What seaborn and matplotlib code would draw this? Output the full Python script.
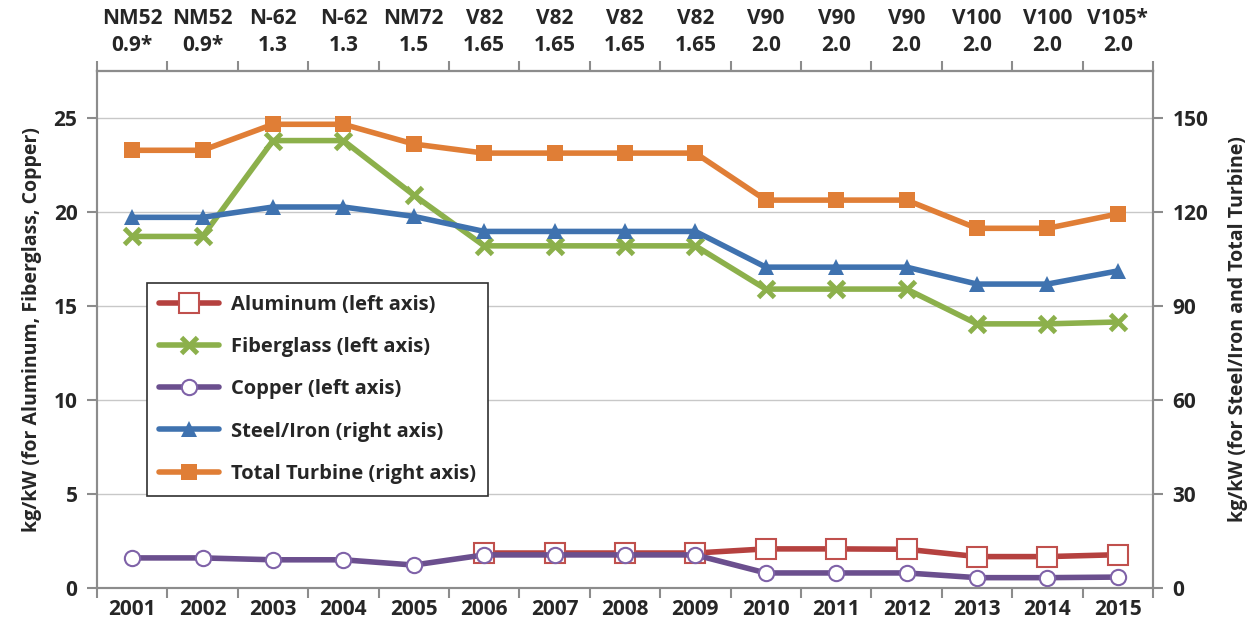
import numpy as np
import pandas as pd
import matplotlib
matplotlib.use("Agg")
import matplotlib.pyplot as plt
import seaborn as sns

# chart data (kg/kW)
years = ["2001", "2002", "2003", "2004", "2005", "2006", "2007", "2008",
         "2009", "2010", "2011", "2012", "2013", "2014", "2015"]
models = ["NM52\n0.9*", "NM52\n0.9*", "N-62\n1.3", "N-62\n1.3", "NM72\n1.5",
          "V82\n1.65", "V82\n1.65", "V82\n1.65", "V82\n1.65", "V90\n2.0",
          "V90\n2.0", "V90\n2.0", "V100\n2.0", "V100\n2.0", "V105*\n2.0"]
aluminum = [np.nan, np.nan, np.nan, np.nan, np.nan, 1.86, 1.86, 1.86, 1.86,
            2.08, 2.08, 2.06, 1.67, 1.67, 1.77]
fiberglass = [18.7, 18.7, 23.8, 23.8, 20.9, 18.2, 18.2, 18.2, 18.2,
              15.9, 15.9, 15.9, 14.05, 14.05, 14.15]
copper = [1.6, 1.6, 1.5, 1.5, 1.22, 1.76, 1.76, 1.76, 1.76,
          0.8, 0.8, 0.8, 0.55, 0.55, 0.58]
steel = [118.3, 118.3, 121.6, 121.6, 118.6, 113.8, 113.8, 113.8, 113.8,
         102.4, 102.4, 102.4, 97.0, 97.0, 101.2]
total = [139.7, 139.7, 148.0, 148.0, 141.7, 138.8, 138.8, 138.8, 138.8,
         123.8, 123.8, 123.8, 114.8, 114.8, 119.4]

df = pd.DataFrame({"year": years, "Aluminum": aluminum, "Fiberglass": fiberglass,
                   "Copper": copper, "Steel": steel, "Total": total})

sns.set_style("white")
plt.rcParams["font.family"] = ["Open Sans", "DejaVu Sans"]
plt.rcParams["font.weight"] = "bold"

fig = plt.figure(figsize=(12.53, 6.33), dpi=100)
ax = fig.add_axes([0.0774, 0.0711, 0.8428, 0.8167])
ax2 = ax.twinx()

lw = 4
sns.lineplot(data=df, x="year", y="Aluminum", ax=ax, color="#B5413F", lw=lw,
             marker="s", markersize=14, markerfacecolor="white",
             markeredgecolor="#C0504D", markeredgewidth=1.5,
             label="Aluminum (left axis)", legend=False)
sns.lineplot(data=df, x="year", y="Fiberglass", ax=ax, color="#8CB04B", lw=lw,
             marker="x", markersize=11, markeredgewidth=3.5,
             markeredgecolor="#8CB04B",
             label="Fiberglass (left axis)", legend=False)
sns.lineplot(data=df, x="year", y="Copper", ax=ax, color="#6B4F8E", lw=lw,
             marker="o", markersize=11, markerfacecolor="white",
             markeredgecolor="#7F62A8", markeredgewidth=1.5,
             label="Copper (left axis)", legend=False)
sns.lineplot(data=df, x="year", y="Steel", ax=ax2, color="#3F72AF", lw=lw,
             marker="^", markersize=11, markeredgewidth=0,
             label="Steel/Iron (right axis)", legend=False)
sns.lineplot(data=df, x="year", y="Total", ax=ax2, color="#E07E36", lw=lw,
             marker="s", markersize=12, markeredgewidth=0,
             label="Total Turbine (right axis)", legend=False)

n = len(years)
for a in (ax, ax2):
    a.set_xlim(-0.5, n - 0.5)
ax.set_ylim(0, 27.5)
ax2.set_ylim(0, 165)
ax.set_yticks([0, 5, 10, 15, 20, 25])
ax2.set_yticks([0, 30, 60, 90, 120, 150])

axis_grey = "#8C8C8C"
ax.grid(axis="y", color="#C8C8C8", lw=1)
ax.grid(axis="x", visible=False)
ax2.grid(False)
for a in (ax, ax2):
    for s in a.spines.values():
        s.set_color(axis_grey)
        s.set_linewidth(1.5)

fs = 15
# categorical ticks: marks at boundaries, labels centred
ax.set_xticks(np.arange(n + 1) - 0.5)
ax.set_xticklabels([])
ax.set_xticks(np.arange(n), minor=True)
ax.set_xticklabels(years, minor=True, fontsize=fs, fontweight="bold")
ax.tick_params(axis="x", which="major", length=7, width=1.5, color=axis_grey,
               direction="out", bottom=True)
ax.tick_params(axis="x", which="minor", length=0, pad=8, bottom=True)
ax.set_xlabel("")

top = ax.secondary_xaxis("top")
top.set_xticks(np.arange(n + 1) - 0.5)
top.set_xticklabels([])
top.set_xticks(np.arange(n), minor=True)
top.set_xticklabels(models, minor=True, fontsize=fs, fontweight="bold",
                    linespacing=1.35)
top.tick_params(axis="x", which="major", length=7, width=1.5, color=axis_grey,
                direction="out")
top.tick_params(axis="x", which="minor", length=0, pad=11)
top.spines["top"].set_color(axis_grey)
top.spines["top"].set_linewidth(1.5)

ax.tick_params(axis="y", length=7, width=1.5, color=axis_grey, direction="out",
               left=True, labelsize=fs, pad=7)
ax2.tick_params(axis="y", length=7, width=1.5, color=axis_grey, direction="out",
                right=True, labelsize=fs, pad=7)
for lab in ax.get_yticklabels() + ax2.get_yticklabels():
    lab.set_fontweight("bold")

ax.set_ylabel("kg/kW (for Aluminum, Fiberglass, Copper)", fontsize=14,
              fontweight="bold", labelpad=8)
ax2.set_ylabel("kg/kW (for Steel/Iron and Total Turbine)", fontsize=14,
               fontweight="bold", labelpad=14)

h1, l1 = ax.get_legend_handles_labels()
h2, l2 = ax2.get_legend_handles_labels()
leg = ax2.legend(h1 + h2, l1 + l2, loc="upper left",
                 bbox_to_anchor=(0.047, 0.59), borderaxespad=0,
                 frameon=True, fancybox=False,
                 edgecolor="#303030", framealpha=1,
                 handlelength=3.0, labelspacing=1.1, borderpad=0.6,
                 handletextpad=0.6, prop={"weight": "bold", "size": 14.5})
leg.get_frame().set_linewidth(1.2)

fig.savefig("out.png", dpi=100)
